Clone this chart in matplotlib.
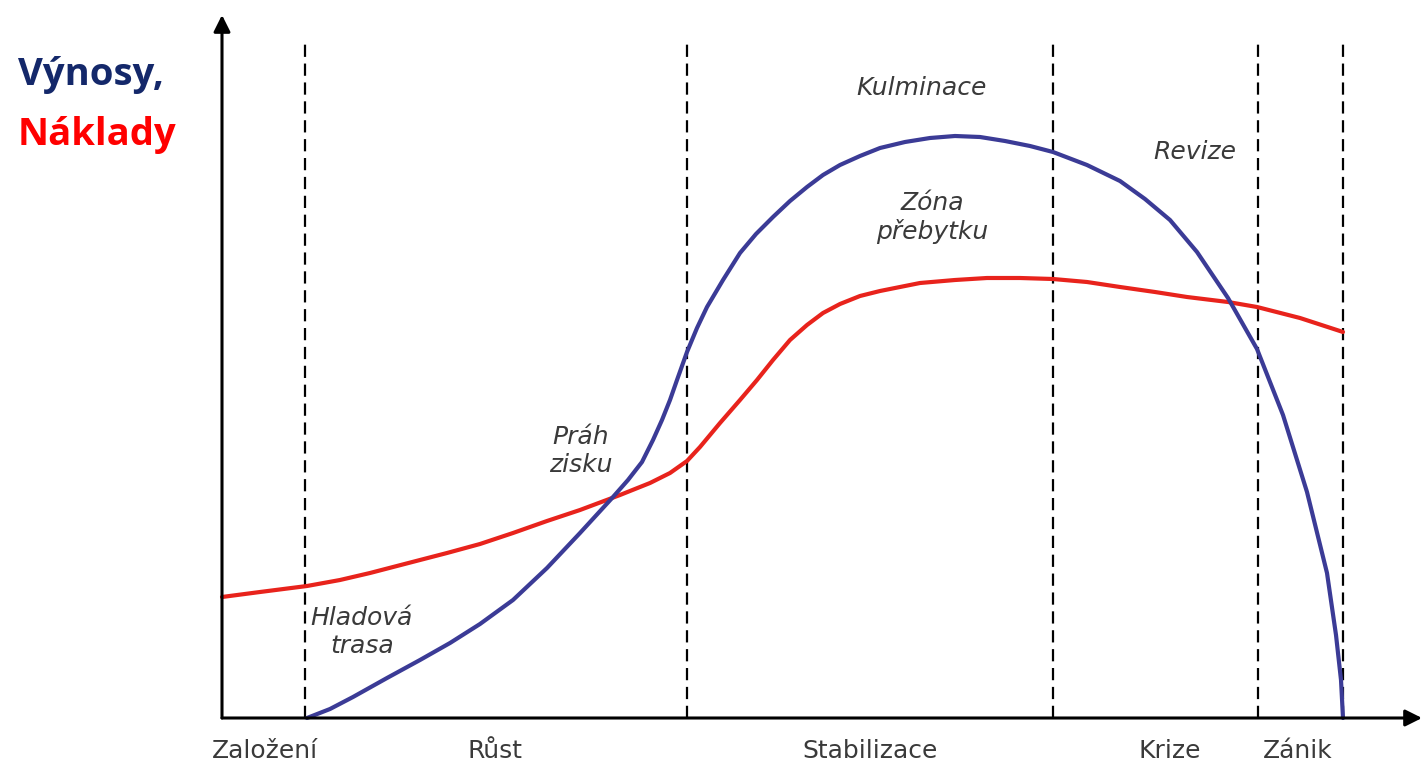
import matplotlib.pyplot as plt
import numpy as np

# phase boundaries and names (x in chart units, origin at the axis corner)
phase_bounds = [83, 465, 831, 1036, 1121]
phase_names = ['Založení', 'Růst', 'Stabilizace', 'Krize', 'Zánik']
phase_label_x = [43, 273, 648, 948, 1076]

# revenue curve (Výnosy)
rev_x = [85, 108, 131, 165, 198, 228, 258, 291, 325, 358, 391, 406, 420, 431,
         440, 448, 455, 465, 475, 485, 501, 518, 534, 551, 568, 585, 601, 618,
         638, 658, 683, 708, 733, 758, 783, 808, 831, 865, 898, 923, 948, 975,
         1006, 1035, 1061, 1085, 1105, 1114, 1119, 1121]
rev_y = [0, 9, 21, 40, 58, 75, 94, 118, 150, 185, 221, 238, 256, 278,
         298, 318, 338, 366, 390, 411, 438, 465, 484, 501, 517, 531, 543, 553,
         562, 570, 576, 580, 582, 581, 577, 572, 566, 553, 537, 519, 498, 466,
         420, 369, 303, 226, 145, 83, 38, 0]

# cost curve (Náklady)
cost_x = [0, 38, 85, 118, 148, 198, 225, 258, 291, 325, 358, 398, 428, 448,
          465, 478, 498, 518, 535, 551, 568, 585, 601, 618, 638, 658, 698, 733,
          765, 798, 831, 865, 898, 933, 965, 1006, 1035, 1078, 1121]
cost_y = [121, 126, 132, 138, 145, 158, 165, 174, 185, 197, 208, 223, 235, 245,
          257, 271, 295, 318, 338, 358, 378, 393, 405, 414, 422, 427, 435, 438,
          440, 440, 439, 436, 431, 426, 421, 416, 411, 400, 386]

# italic notes inside the chart
notes = ['Kulminace', 'Revize', 'Zóna\npřebytku', 'Práh\nzisku', 'Hladová\ntrasa']
notes_x = [700, 973, 710, 359, 140]
notes_y = [630, 566, 500, 267, 86]

fig = plt.figure(figsize=(14.22, 7.65), dpi=100)
ax = fig.add_axes([222 / 1422, 47 / 765, 1200 / 1422, 703 / 765])
ax.set_xlim(0, 1200)
ax.set_ylim(0, 703)
ax.axis('off')

# axes with arrows
arrow = dict(arrowstyle='-|>,head_length=1.0,head_width=0.5', lw=2.2, color='black',
             shrinkA=0, shrinkB=0)
ax.annotate('', xy=(0, 1), xytext=(0, 0), xycoords='axes fraction', arrowprops=arrow)
ax.annotate('', xy=(1, 0), xytext=(0, 0), xycoords='axes fraction', arrowprops=arrow)

for b in phase_bounds:
    ax.plot([b, b], [0, 678], color='black', lw=1.6, ls=(0, (5.5, 3)), clip_on=False)

ax.plot(cost_x, cost_y, color='#e8231c', lw=3.0, solid_capstyle='round',
        solid_joinstyle='round', clip_on=False)
ax.plot(rev_x, rev_y, color='#3b3b96', lw=3.0, solid_capstyle='round',
        solid_joinstyle='round', clip_on=False)

for name, x in zip(phase_names, phase_label_x):
    ax.text(x, -21, name, ha='center', va='top', fontsize=18, color='#3a3a3a',
            family='DejaVu Sans', clip_on=False)

for t, x, y in zip(notes, notes_x, notes_y):
    ax.text(x, y, t, ha='center', va='center', fontsize=18, style='italic',
            color='#3a3a3a', family='DejaVu Sans', linespacing=1.2)

fig.text(18 / 1422, 1 - 75 / 765, 'Výnosy,', ha='left', va='center', fontsize=27.5,
         fontweight='bold', color='#14286a', family='Open Sans')
fig.text(18 / 1422, 1 - 135 / 765, 'Náklady', ha='left', va='center', fontsize=27.5,
         fontweight='bold', color='#ff0000', family='Open Sans')

fig.savefig('out.png', dpi=100)
